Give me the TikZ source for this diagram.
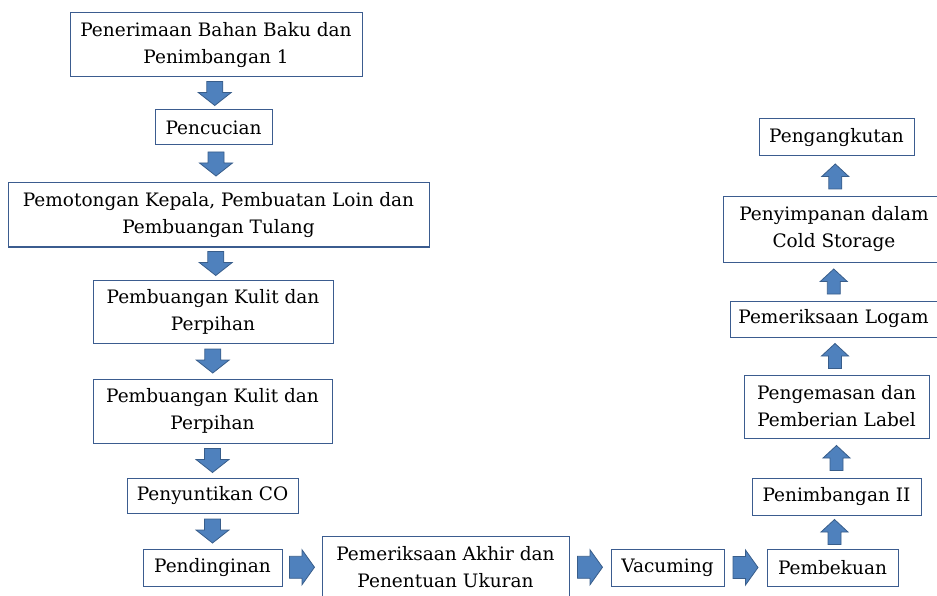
\documentclass[tikz,border=0pt]{standalone}
\usepackage{fontspec}
\setmainfont{DejaVu Serif}
\usepackage{tikz}
\usetikzlibrary{calc}
\definecolor{boxline}{HTML}{3B5C8F}
\definecolor{arrowfill}{HTML}{4F81BD}
\definecolor{arrowline}{HTML}{385D8A}
\tikzset{
  stepbox/.style={draw=boxline,line width=1pt,fill=white,align=center,inner sep=0pt,
    font=\fontsize{18.5}{27}\selectfont},
  arrowbody/.style={draw=arrowline,fill=arrowfill,line width=0.8pt,line join=miter},
  % block arrows, centred on the gap between two boxes
  blockdown/.pic={\path[arrowbody] (-8,12) -- (8,12) -- (8,1) -- (16.5,1)
    -- (0,-12) -- (-16.5,1) -- (-8,1) -- cycle;},
  blockright/.pic={\path[arrowbody] (-12.5,11) -- (0,11) -- (0,17.5) -- (12.5,0)
    -- (0,-17.5) -- (0,-11) -- (-12.5,-11) -- cycle;},
  blockup/.pic={\path[arrowbody] (-6.5,-12.5) -- (6.5,-12.5) -- (6.5,0) -- (13.5,0)
    -- (0,12.5) -- (-13.5,0) -- (-6.5,0) -- cycle;}
}
\begin{document}
\begin{tikzpicture}[x=1pt,y=1pt]
\useasboundingbox[clip] (0,0) rectangle (937,-596);
% boxes, left column:
\node[stepbox,minimum width=292pt,minimum height=64pt] (b1) at (216,-45) {Penerimaan Bahan Baku dan\\Penimbangan 1};
\node[stepbox,minimum width=117pt,minimum height=35pt] (b2) at (213.5,-127.5) {Pencucian};
\node[stepbox,minimum width=421pt,minimum height=64pt] (b3) at (218.5,-215) {Pemotongan Kepala, Pembuatan Loin dan\\Pembuangan Tulang};
\node[stepbox,minimum width=240pt,minimum height=63pt] (b4) at (213,-311.5) {Pembuangan Kulit dan\\Perpihan};
\node[stepbox,minimum width=239pt,minimum height=64pt] (b5) at (212.5,-411) {Pembuangan Kulit dan\\Perpihan};
\node[stepbox,minimum width=171pt,minimum height=35pt] (b6) at (212.5,-495.5) {Penyuntikan CO};
\node[stepbox,minimum width=139pt,minimum height=37pt] (b7) at (212.5,-567.5) {Pendinginan};
% boxes, bottom row:
\node[stepbox,minimum width=247pt,minimum height=62pt] (b8) at (445.5,-567) {Pemeriksaan Akhir dan\\Penentuan Ukuran};
\node[stepbox,minimum width=113pt,minimum height=37pt] (b9) at (667.5,-567.5) {Vacuming};
\node[stepbox,minimum width=131pt,minimum height=37pt] (b10) at (832.5,-567.5) {Pembekuan};
% boxes, right column:
\node[stepbox,minimum width=169pt,minimum height=37pt] (b11) at (836.5,-496.5) {Penimbangan II};
\node[stepbox,minimum width=185pt,minimum height=63pt] (b12) at (836.5,-406.5) {Pengemasan dan\\Pemberian Label};
\node[stepbox,minimum width=207pt,minimum height=36pt] (b13) at (833.5,-319) {Pemeriksaan Logam};
\node[stepbox,minimum width=222pt,minimum height=65pt] (b14) at (834,-229.5) {Penyimpanan dalam\\Cold Storage};
\node[stepbox,minimum width=155pt,minimum height=37pt] (b15) at (836.5,-137.5) {Pengangkutan};
% arrows down:
\foreach \a/\b in {b1/b2,b2/b3,b3/b4,b4/b5,b5/b6,b6/b7}
  \pic at ($(\a.south)!0.5!(\b.north)$) {blockdown};
% arrows right:
\foreach \a/\b in {b7/b8,b8/b9,b9/b10}
  \pic at ($(\a.east)!0.5!(\b.west)$) {blockright};
% arrows up:
\foreach \a/\b in {b10/b11,b11/b12,b12/b13,b13/b14,b14/b15}
  \pic at ($(\a.north)!0.5!(\b.south)$) {blockup};
\end{tikzpicture}
\end{document}
